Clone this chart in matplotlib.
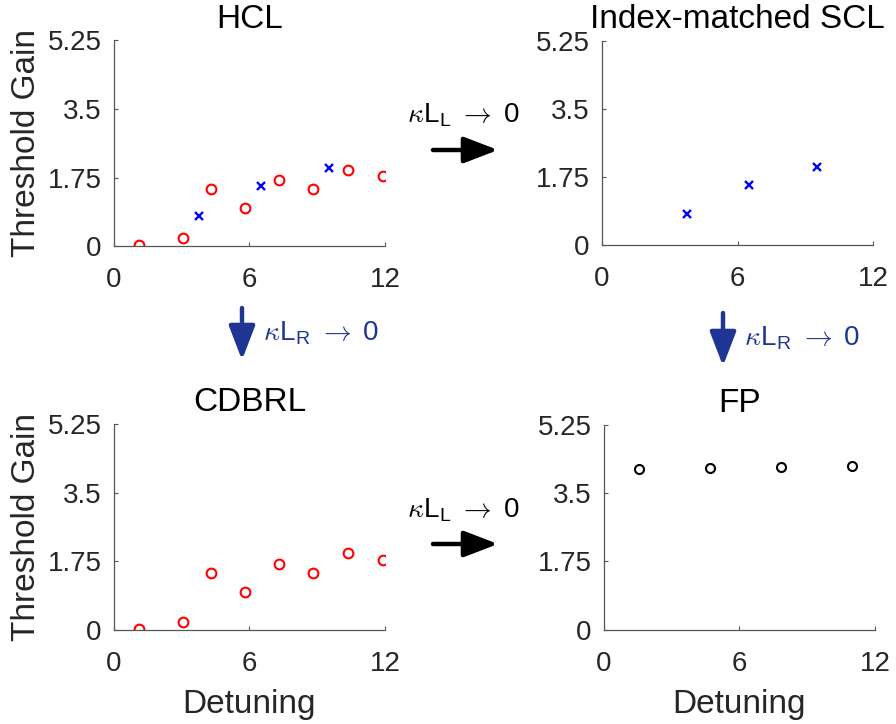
import numpy as np
import matplotlib
matplotlib.use("Agg")
import matplotlib.pyplot as plt

plt.rcParams['font.family'] = ['Liberation Sans', 'DejaVu Sans']
plt.rcParams['mathtext.fontset'] = 'cm'

# donnees
hcl_x_rouge = [1.12, 3.07, 4.29, 5.80, 7.29, 8.82, 10.34, 11.92]
hcl_y_rouge = [0.03, 0.20, 1.45, 0.96, 1.68, 1.45, 1.95, 1.79]
scl_x_bleu = [3.76, 6.50, 9.53]
scl_y_bleu = [0.78, 1.53, 1.99]
fp_x = [1.57, 4.70, 7.82, 10.98]
fp_y = [4.12, 4.14, 4.16, 4.19]

xticks = [0, 6, 12]
yticks = [0, 1.75, 3.5, 5.25]
ytick_labels = ['0', '1.75', '3.5', '5.25']
titres = ['HCL', 'Index-matched SCL', 'CDBRL', 'FP']

gris = '#262626'
bleu_fonce = '#1f3593'


def preparer_axe(ax, titre, ylabel=False, xlabel=False):
    ax.set_xlim(0, 12)
    ax.set_ylim(0, 5.25)
    ax.set_xticks(xticks)
    ax.set_yticks(yticks)
    ax.set_yticklabels(ytick_labels)
    ax.spines['top'].set_visible(False)
    ax.spines['right'].set_visible(False)
    for s in ['left', 'bottom']:
        ax.spines[s].set_color('#555555')
        ax.spines[s].set_linewidth(0.9)
    ax.tick_params(direction='in', length=3, width=0.8, color='#555555',
                   labelsize=20, labelcolor=gris)
    ax.tick_params(axis='x', pad=15)
    ax.tick_params(axis='y', pad=9)
    ax.set_title(titre, fontsize=24, pad=9, color='black')
    if ylabel:
        ax.set_ylabel('Threshold Gain', fontsize=24, color=gris, labelpad=4)
    if xlabel:
        ax.set_xlabel('Detuning', fontsize=24, color=gris, labelpad=9)


fig = plt.figure(figsize=(8.96, 7.24), dpi=100)

ax1 = fig.add_axes([0.1272, 0.660, 0.3025, 0.2845])
ax2 = fig.add_axes([0.6720, 0.662, 0.3025, 0.2820])
ax3 = fig.add_axes([0.1272, 0.130, 0.3025, 0.2845])
ax4 = fig.add_axes([0.6740, 0.130, 0.3025, 0.2835])

# HCL
ax1.plot(hcl_x_rouge, hcl_y_rouge, 'o', mfc='none', mec='red', ms=7, mew=1.5)
ax1.plot(scl_x_bleu, scl_y_bleu, 'x', color='blue', ms=5.5, mew=1.7)
preparer_axe(ax1, titres[0], ylabel=True)

# SCL
ax2.plot(scl_x_bleu, scl_y_bleu, 'x', color='blue', ms=5.5, mew=1.7)
preparer_axe(ax2, titres[1])

# CDBRL
ax3.plot(hcl_x_rouge, hcl_y_rouge, 'o', mfc='none', mec='red', ms=7, mew=1.5)
preparer_axe(ax3, titres[2], ylabel=True, xlabel=True)

# FP
ax4.plot(fp_x, fp_y, 'o', mfc='none', mec='black', ms=6.5, mew=1.5)
preparer_axe(ax4, titres[3], xlabel=True)

# fleches entre les panneaux
texte_L = r'$\kappa$L$_{\mathregular{L}}\;\rightarrow\;$0'
texte_R = r'$\kappa$L$_{\mathregular{R}}\;\rightarrow\;$0'
style_fleche = dict(arrowstyle='-|>,head_length=1.3,head_width=0.5',
                    lw=3.2, mutation_scale=16, shrinkA=0, shrinkB=0)

for y_fleche, y_texte in [(150, 122), (544, 517)]:
    fig.add_artist(plt.Annotation('', xy=(498 / 896, 1 - y_fleche / 724),
                                  xytext=(433 / 896, 1 - y_fleche / 724),
                                  xycoords='figure fraction',
                                  arrowprops=dict(style_fleche, color='black')))
    fig.text(407 / 896, 1 - y_texte / 724, texte_L, fontsize=20,
             color='black', va='baseline', ha='left')

for x_fleche, y0, y1, x_texte, y_texte in [(242, 308, 360, 263, 340),
                                           (723, 313, 366, 744, 345)]:
    fig.add_artist(plt.Annotation('', xy=(x_fleche / 896, 1 - y1 / 724),
                                  xytext=(x_fleche / 896, 1 - y0 / 724),
                                  xycoords='figure fraction',
                                  arrowprops=dict(style_fleche, color=bleu_fonce)))
    fig.text(x_texte / 896, 1 - y_texte / 724, texte_R, fontsize=20,
             color=bleu_fonce, va='baseline', ha='left')

fig.savefig('out.png', dpi=100)
